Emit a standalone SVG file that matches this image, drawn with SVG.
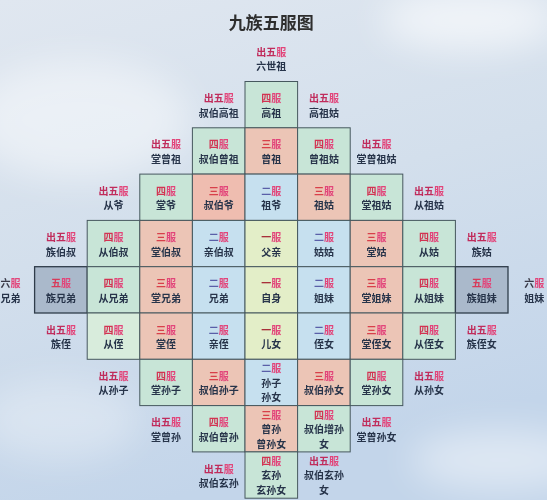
<svg xmlns="http://www.w3.org/2000/svg" width="547" height="500" viewBox="0 0 547 500">
<defs>
<linearGradient id="sky" x1="0" y1="0" x2="0.3" y2="1">
<stop offset="0" stop-color="#e0e7f0"/>
<stop offset="0.5" stop-color="#d3dfec"/>
<stop offset="1" stop-color="#c3d5ea"/>
</linearGradient>
<filter id="blur" x="-50%" y="-50%" width="200%" height="200%"><feGaussianBlur stdDeviation="18"/></filter>
<style>
.cell{stroke:#46585e;stroke-width:1}
.c1{fill:#e3eec8}
.c2{fill:#c6e0ef}
.c3{fill:#ecc5b6}
.c4{fill:#c8e5d7}
.c5{fill:#aab9cb;stroke:#2f3c4a;stroke-width:1.3}
text{font-family:"Noto Sans CJK SC","Noto Sans",sans-serif;font-size:10px;font-weight:700;text-anchor:middle;fill:#27344a}
.title{font-size:17px;font-weight:600;fill:#2e2e2e}
.f{fill:#e2457a}
.o{fill:#c02c5c}
.n4{fill:#d23452}
.n3{fill:#d8404a}
.n2{fill:#5a5fa8}
.n1{fill:#a8303a}
.n5{fill:#d83a5a}
.n6{fill:#3a3a48}
.d{fill:#27344a}
</style>
</defs>
<rect width="547" height="500" fill="url(#sky)"/>
<g filter="url(#blur)" fill="#ffffff">
<ellipse cx="80" cy="120" rx="110" ry="60" opacity="0.45"/>
<ellipse cx="470" cy="20" rx="90" ry="30" opacity="0.6"/>
<ellipse cx="500" cy="460" rx="90" ry="30" opacity="0.45"/>
<ellipse cx="60" cy="420" rx="80" ry="40" opacity="0.3"/>
</g>
<text class="title" x="271.3" y="29">九族五服图</text>

<g id="connectors"></g>

<g id="r1">
<g id="n-gaozu"><rect class="cell c4" x="245" y="81.5" width="52.6" height="46.3"/><text x="271.3" y="102.1"><tspan class="n4">四</tspan><tspan class="f">服</tspan><tspan class="d" x="271.3" dy="14.5">高祖</tspan></text></g>
</g>
<g id="r2">
<g id="n-shubozengzu"><rect class="cell c4" x="192.4" y="127.8" width="52.6" height="46.3"/><text x="218.7" y="148.4"><tspan class="n4">四</tspan><tspan class="f">服</tspan><tspan class="d" x="218.7" dy="14.5">叔伯曾祖</tspan></text></g>
<g id="n-zengzu"><rect class="cell c3" x="245" y="127.8" width="52.6" height="46.3"/><text x="271.3" y="148.4"><tspan class="n3">三</tspan><tspan class="f">服</tspan><tspan class="d" x="271.3" dy="14.5">曾祖</tspan></text></g>
<g id="n-zengzugu"><rect class="cell c4" x="297.6" y="127.8" width="52.6" height="46.3"/><text x="323.9" y="148.4"><tspan class="n4">四</tspan><tspan class="f">服</tspan><tspan class="d" x="323.9" dy="14.5">曾祖姑</tspan></text></g>
</g>
<g id="r3">
<g id="n-tangye"><rect class="cell c4" x="139.8" y="174.1" width="52.6" height="46.3"/><text x="166.1" y="194.7"><tspan class="n4">四</tspan><tspan class="f">服</tspan><tspan class="d" x="166.1" dy="14.5">堂爷</tspan></text></g>
<g id="n-shuboye"><rect class="cell c3" x="192.4" y="174.1" width="52.6" height="46.3" style="fill:#efbdb0"/><text x="218.7" y="194.7"><tspan class="n3">三</tspan><tspan class="f">服</tspan><tspan class="d" x="218.7" dy="14.5">叔伯爷</tspan></text></g>
<g id="n-zuye"><rect class="cell c2" x="245" y="174.1" width="52.6" height="46.3"/><text x="271.3" y="194.7"><tspan class="n2">二</tspan><tspan class="f">服</tspan><tspan class="d" x="271.3" dy="14.5">祖爷</tspan></text></g>
<g id="n-zugu"><rect class="cell c3" x="297.6" y="174.1" width="52.6" height="46.3"/><text x="323.9" y="194.7"><tspan class="n3">三</tspan><tspan class="f">服</tspan><tspan class="d" x="323.9" dy="14.5">祖姑</tspan></text></g>
<g id="n-tangzugu"><rect class="cell c4" x="350.2" y="174.1" width="52.6" height="46.3"/><text x="376.5" y="194.7"><tspan class="n4">四</tspan><tspan class="f">服</tspan><tspan class="d" x="376.5" dy="14.5">堂祖姑</tspan></text></g>
</g>
<g id="r4">
<g id="n-congboshu"><rect class="cell c4" x="87.2" y="220.4" width="52.6" height="46.3"/><text x="113.5" y="241"><tspan class="n4">四</tspan><tspan class="f">服</tspan><tspan class="d" x="113.5" dy="14.5">从伯叔</tspan></text></g>
<g id="n-tangboshu"><rect class="cell c3" x="139.8" y="220.4" width="52.6" height="46.3"/><text x="166.1" y="241"><tspan class="n3">三</tspan><tspan class="f">服</tspan><tspan class="d" x="166.1" dy="14.5">堂伯叔</tspan></text></g>
<g id="n-qinboshu"><rect class="cell c2" x="192.4" y="220.4" width="52.6" height="46.3"/><text x="218.7" y="241"><tspan class="n2">二</tspan><tspan class="f">服</tspan><tspan class="d" x="218.7" dy="14.5">亲伯叔</tspan></text></g>
<g id="n-fuqin"><rect class="cell c1" x="245" y="220.4" width="52.6" height="46.3"/><text x="271.3" y="241"><tspan class="n1">一</tspan><tspan class="f">服</tspan><tspan class="d" x="271.3" dy="14.5">父亲</tspan></text></g>
<g id="n-gugu"><rect class="cell c2" x="297.6" y="220.4" width="52.6" height="46.3"/><text x="323.9" y="241"><tspan class="n2">二</tspan><tspan class="f">服</tspan><tspan class="d" x="323.9" dy="14.5">姑姑</tspan></text></g>
<g id="n-tanggu"><rect class="cell c3" x="350.2" y="220.4" width="52.6" height="46.3"/><text x="376.5" y="241"><tspan class="n3">三</tspan><tspan class="f">服</tspan><tspan class="d" x="376.5" dy="14.5">堂姑</tspan></text></g>
<g id="n-conggu"><rect class="cell c4" x="402.8" y="220.4" width="52.6" height="46.3"/><text x="429.1" y="241"><tspan class="n4">四</tspan><tspan class="f">服</tspan><tspan class="d" x="429.1" dy="14.5">从姑</tspan></text></g>
</g>
<g id="r5">
<g id="n-zuxiongdi"><rect class="cell c5" x="34.6" y="266.7" width="52.6" height="46.3"/><text x="60.9" y="287.3"><tspan class="n5">五</tspan><tspan class="f">服</tspan><tspan class="d" x="60.9" dy="14.5">族兄弟</tspan></text></g>
<g id="n-congxiongdi"><rect class="cell c4" x="87.2" y="266.7" width="52.6" height="46.3"/><text x="113.5" y="287.3"><tspan class="n4">四</tspan><tspan class="f">服</tspan><tspan class="d" x="113.5" dy="14.5">从兄弟</tspan></text></g>
<g id="n-tangxiongdi"><rect class="cell c3" x="139.8" y="266.7" width="52.6" height="46.3"/><text x="166.1" y="287.3"><tspan class="n3">三</tspan><tspan class="f">服</tspan><tspan class="d" x="166.1" dy="14.5">堂兄弟</tspan></text></g>
<g id="n-xiongdi"><rect class="cell c2" x="192.4" y="266.7" width="52.6" height="46.3"/><text x="218.7" y="287.3"><tspan class="n2">二</tspan><tspan class="f">服</tspan><tspan class="d" x="218.7" dy="14.5">兄弟</tspan></text></g>
<g id="n-zishen"><rect class="cell c1" x="245" y="266.7" width="52.6" height="46.3"/><text x="271.3" y="287.3"><tspan class="n1">一</tspan><tspan class="f">服</tspan><tspan class="d" x="271.3" dy="14.5">自身</tspan></text></g>
<g id="n-jiemei"><rect class="cell c2" x="297.6" y="266.7" width="52.6" height="46.3"/><text x="323.9" y="287.3"><tspan class="n2">二</tspan><tspan class="f">服</tspan><tspan class="d" x="323.9" dy="14.5">姐妹</tspan></text></g>
<g id="n-tangjiemei"><rect class="cell c3" x="350.2" y="266.7" width="52.6" height="46.3"/><text x="376.5" y="287.3"><tspan class="n3">三</tspan><tspan class="f">服</tspan><tspan class="d" x="376.5" dy="14.5">堂姐妹</tspan></text></g>
<g id="n-congjiemei"><rect class="cell c4" x="402.8" y="266.7" width="52.6" height="46.3"/><text x="429.1" y="287.3"><tspan class="n4">四</tspan><tspan class="f">服</tspan><tspan class="d" x="429.1" dy="14.5">从姐妹</tspan></text></g>
<g id="n-zujiemei"><rect class="cell c5" x="455.4" y="266.7" width="52.6" height="46.3"/><text x="481.7" y="287.3"><tspan class="n5">五</tspan><tspan class="f">服</tspan><tspan class="d" x="481.7" dy="14.5">族姐妹</tspan></text></g>
</g>
<g id="r6">
<g id="n-congzhi"><rect class="cell c4" x="87.2" y="313" width="52.6" height="46.3" style="fill:#d8ecdc"/><text x="113.5" y="333.6"><tspan class="n4">四</tspan><tspan class="f">服</tspan><tspan class="d" x="113.5" dy="14.5">从侄</tspan></text></g>
<g id="n-tangzhi"><rect class="cell c3" x="139.8" y="313" width="52.6" height="46.3"/><text x="166.1" y="333.6"><tspan class="n3">三</tspan><tspan class="f">服</tspan><tspan class="d" x="166.1" dy="14.5">堂侄</tspan></text></g>
<g id="n-qinzhi"><rect class="cell c2" x="192.4" y="313" width="52.6" height="46.3"/><text x="218.7" y="333.6"><tspan class="n2">二</tspan><tspan class="f">服</tspan><tspan class="d" x="218.7" dy="14.5">亲侄</tspan></text></g>
<g id="n-ernv"><rect class="cell c1" x="245" y="313" width="52.6" height="46.3"/><text x="271.3" y="333.6"><tspan class="n1">一</tspan><tspan class="f">服</tspan><tspan class="d" x="271.3" dy="14.5">儿女</tspan></text></g>
<g id="n-zhinv"><rect class="cell c2" x="297.6" y="313" width="52.6" height="46.3"/><text x="323.9" y="333.6"><tspan class="n2">二</tspan><tspan class="f">服</tspan><tspan class="d" x="323.9" dy="14.5">侄女</tspan></text></g>
<g id="n-tangzhinv"><rect class="cell c3" x="350.2" y="313" width="52.6" height="46.3"/><text x="376.5" y="333.6"><tspan class="n3">三</tspan><tspan class="f">服</tspan><tspan class="d" x="376.5" dy="14.5">堂侄女</tspan></text></g>
<g id="n-congzhinv"><rect class="cell c4" x="402.8" y="313" width="52.6" height="46.3"/><text x="429.1" y="333.6"><tspan class="n4">四</tspan><tspan class="f">服</tspan><tspan class="d" x="429.1" dy="14.5">从侄女</tspan></text></g>
</g>
<g id="r7">
<g id="n-tangsunzi"><rect class="cell c4" x="139.8" y="359.3" width="52.6" height="46.3"/><text x="166.1" y="379.9"><tspan class="n4">四</tspan><tspan class="f">服</tspan><tspan class="d" x="166.1" dy="14.5">堂孙子</tspan></text></g>
<g id="n-shubosunzi"><rect class="cell c3" x="192.4" y="359.3" width="52.6" height="46.3"/><text x="218.7" y="379.9"><tspan class="n3">三</tspan><tspan class="f">服</tspan><tspan class="d" x="218.7" dy="14.5">叔伯孙子</tspan></text></g>
<g id="n-sunzi"><rect class="cell c2" x="245" y="359.3" width="52.6" height="46.3"/><text x="271.3" y="372.3"><tspan class="n2">二</tspan><tspan class="f">服</tspan><tspan class="d" x="271.3" dy="14.5">孙子</tspan><tspan class="d" x="271.3" dy="14.5">孙女</tspan></text></g>
<g id="n-shubosunnv"><rect class="cell c3" x="297.6" y="359.3" width="52.6" height="46.3"/><text x="323.9" y="379.9"><tspan class="n3">三</tspan><tspan class="f">服</tspan><tspan class="d" x="323.9" dy="14.5">叔伯孙女</tspan></text></g>
<g id="n-tangsunnv"><rect class="cell c4" x="350.2" y="359.3" width="52.6" height="46.3"/><text x="376.5" y="379.9"><tspan class="n4">四</tspan><tspan class="f">服</tspan><tspan class="d" x="376.5" dy="14.5">堂孙女</tspan></text></g>
</g>
<g id="r8">
<g id="n-shubozengsun"><rect class="cell c4" x="192.4" y="405.6" width="52.6" height="46.3"/><text x="218.7" y="426.2"><tspan class="n4">四</tspan><tspan class="f">服</tspan><tspan class="d" x="218.7" dy="14.5">叔伯曾孙</tspan></text></g>
<g id="n-zengsun"><rect class="cell c3" x="245" y="405.6" width="52.6" height="46.3"/><text x="271.3" y="418.6"><tspan class="n3">三</tspan><tspan class="f">服</tspan><tspan class="d" x="271.3" dy="14.5">曾孙</tspan><tspan class="d" x="271.3" dy="14.5">曾孙女</tspan></text></g>
<g id="n-shubozengsunnv"><rect class="cell c4" x="297.6" y="405.6" width="52.6" height="46.3"/><text x="323.9" y="418.6"><tspan class="n4">四</tspan><tspan class="f">服</tspan><tspan class="d" x="323.9" dy="14.5">叔伯增孙</tspan><tspan class="d" x="323.9" dy="14.5">女</tspan></text></g>
</g>
<g id="r9">
<g id="n-xuansun"><rect class="cell c4" x="245" y="451.9" width="52.6" height="46.3"/><text x="271.3" y="464.9"><tspan class="n4">四</tspan><tspan class="f">服</tspan><tspan class="d" x="271.3" dy="14.5">玄孙</tspan><tspan class="d" x="271.3" dy="14.5">玄孙女</tspan></text></g>
</g>

<g id="outer">
<g id="o-liushizu"><text x="271.3" y="55.8"><tspan class="o">出五</tspan><tspan class="f">服</tspan><tspan class="d" x="271.3" dy="14.5">六世祖</tspan></text></g>
<g id="o-shubogaozu"><text x="218.7" y="102.1"><tspan class="o">出五</tspan><tspan class="f">服</tspan><tspan class="d" x="218.7" dy="14.5">叔伯高祖</tspan></text></g>
<g id="o-gaozugu"><text x="323.9" y="102.1"><tspan class="o">出五</tspan><tspan class="f">服</tspan><tspan class="d" x="323.9" dy="14.5">高祖姑</tspan></text></g>
<g id="o-tangzengzu"><text x="166.1" y="148.4"><tspan class="o">出五</tspan><tspan class="f">服</tspan><tspan class="d" x="166.1" dy="14.5">堂曾祖</tspan></text></g>
<g id="o-tangzengzugu"><text x="376.5" y="148.4"><tspan class="o">出五</tspan><tspan class="f">服</tspan><tspan class="d" x="376.5" dy="14.5">堂曾祖姑</tspan></text></g>
<g id="o-congye"><text x="113.5" y="194.7"><tspan class="o">出五</tspan><tspan class="f">服</tspan><tspan class="d" x="113.5" dy="14.5">从爷</tspan></text></g>
<g id="o-congzugu"><text x="429.1" y="194.7"><tspan class="o">出五</tspan><tspan class="f">服</tspan><tspan class="d" x="429.1" dy="14.5">从祖姑</tspan></text></g>
<g id="o-zuboshu"><text x="60.9" y="241"><tspan class="o">出五</tspan><tspan class="f">服</tspan><tspan class="d" x="60.9" dy="14.5">族伯叔</tspan></text></g>
<g id="o-zugu"><text x="481.7" y="241"><tspan class="o">出五</tspan><tspan class="f">服</tspan><tspan class="d" x="481.7" dy="14.5">族姑</tspan></text></g>
<g id="o-xiongdi6"><text x="10.5" y="287.3"><tspan class="n6">六</tspan><tspan class="f">服</tspan><tspan class="d" x="10.5" dy="14.5">兄弟</tspan></text></g>
<g id="o-jiemei6"><text x="534.3" y="287.3"><tspan class="n6">六</tspan><tspan class="f">服</tspan><tspan class="d" x="534.3" dy="14.5">姐妹</tspan></text></g>
<g id="o-zuzhi"><text x="60.9" y="333.6"><tspan class="o">出五</tspan><tspan class="f">服</tspan><tspan class="d" x="60.9" dy="14.5">族侄</tspan></text></g>
<g id="o-zuzhinv"><text x="481.7" y="333.6"><tspan class="o">出五</tspan><tspan class="f">服</tspan><tspan class="d" x="481.7" dy="14.5">族侄女</tspan></text></g>
<g id="o-congsunzi"><text x="113.5" y="379.9"><tspan class="o">出五</tspan><tspan class="f">服</tspan><tspan class="d" x="113.5" dy="14.5">从孙子</tspan></text></g>
<g id="o-congsunnv"><text x="429.1" y="379.9"><tspan class="o">出五</tspan><tspan class="f">服</tspan><tspan class="d" x="429.1" dy="14.5">从孙女</tspan></text></g>
<g id="o-tangzengsun"><text x="166.1" y="426.2"><tspan class="o">出五</tspan><tspan class="f">服</tspan><tspan class="d" x="166.1" dy="14.5">堂曾孙</tspan></text></g>
<g id="o-tangzengsunnv"><text x="376.5" y="426.2"><tspan class="o">出五</tspan><tspan class="f">服</tspan><tspan class="d" x="376.5" dy="14.5">堂曾孙女</tspan></text></g>
<g id="o-shuboxuansun"><text x="218.7" y="472.5"><tspan class="o">出五</tspan><tspan class="f">服</tspan><tspan class="d" x="218.7" dy="14.5">叔伯玄孙</tspan></text></g>
<g id="o-shuboxuansunnv"><text x="323.9" y="464.9"><tspan class="o">出五</tspan><tspan class="f">服</tspan><tspan class="d" x="323.9" dy="14.5">叔伯玄孙</tspan><tspan class="d" x="323.9" dy="14.5">女</tspan></text></g>
</g>
</svg>
